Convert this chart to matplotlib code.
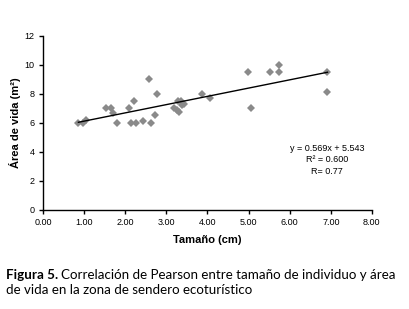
import numpy as np
import matplotlib
matplotlib.use("Agg")
import matplotlib.pyplot as plt
from matplotlib.ticker import FormatStrFormatter

plt.rcParams['font.family'] = ['Liberation Sans', 'DejaVu Sans']

# datos
tamano = [0.86, 0.98, 1.05, 1.53, 1.65, 1.71, 1.81, 2.08, 2.13, 2.22, 2.25,
          2.44, 2.58, 2.63, 2.73, 2.78, 3.19, 3.25, 3.30, 3.29, 3.35, 3.38,
          3.42, 3.86, 4.05, 4.98, 5.06, 5.52, 5.73, 5.73, 6.92, 6.90]
area = [6.0, 6.0, 6.2, 7.0, 7.0, 6.7, 6.0, 7.0, 6.0, 7.5, 6.0,
        6.1, 9.0, 6.0, 6.5, 8.0, 7.0, 6.85, 6.75, 7.5, 7.5, 7.25,
        7.3, 8.0, 7.7, 9.5, 7.0, 9.5, 10.0, 9.5, 9.5, 8.1]
pendiente = 0.569
intercepto = 5.543
eq_texto = ["y = 0.569x + 5.543", "R² = 0.600", "R= 0.77"]

fig = plt.figure(figsize=(4.1, 3.09), dpi=100)
ax = fig.add_axes([0.105, 0.321, 0.802, 0.5635])

ax.plot(tamano, area, linestyle='none', marker='D', markersize=4,
        color='#8a8a8a', markeredgewidth=0)
xl = np.array([min(tamano), max(tamano)])
ax.plot(xl, pendiente * xl + intercepto, color='black', lw=1)

ax.set_xlim(0, 8)
ax.set_ylim(0, 12)
ax.set_xticks(np.arange(0, 9, 1))
ax.set_yticks(np.arange(0, 13, 2))
ax.xaxis.set_major_formatter(FormatStrFormatter('%.2f'))
for s in ['top', 'right']:
    ax.spines[s].set_visible(False)
for s in ['left', 'bottom']:
    ax.spines[s].set_linewidth(1)
ax.tick_params(direction='out', length=3, width=1, labelsize=6.5, pad=3)

ax.set_xlabel("Tamaño (cm)", fontsize=8, fontweight='bold', labelpad=6)
ax.set_ylabel("Área de vida (m²)", fontsize=8, fontweight='bold', labelpad=3)

for i, t in enumerate(eq_texto):
    fig.text(327 / 410, 1 - (149 + 11 * i) / 309, t, fontsize=6.5,
             ha='center', va='center')

# pie de figura
cap_font = ['Lato', 'DejaVu Sans']
fs = 9.6
fig.canvas.draw()
r = fig.canvas.get_renderer()
t1 = fig.text(6 / 410, 1 - 279 / 309, "Figura 5.", fontsize=fs,
              fontweight='bold', family=cap_font, va='baseline')
bb = t1.get_window_extent(r)
fig.text((bb.x1 + 3) / 410, 1 - 279 / 309,
         "Correlación de Pearson entre tamaño de individuo y área",
         fontsize=fs, family=cap_font, va='baseline')
fig.text(6 / 410, 1 - 294 / 309, "de vida en la zona de sendero ecoturístico",
         fontsize=fs, family=cap_font, va='baseline')

fig.savefig("out.png", dpi=100)
